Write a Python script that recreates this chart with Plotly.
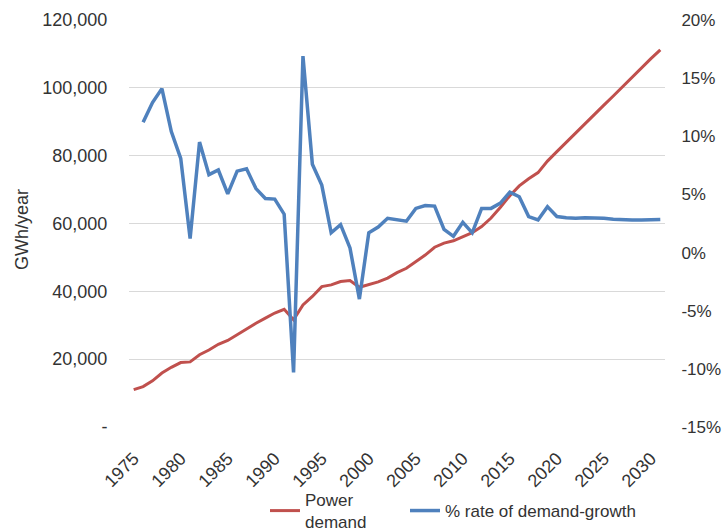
import plotly.graph_objects as go

# Years on the category axis
years = list(range(1975, 2032))

# Annual power demand, GWh/year
power_demand = [
    11000, 11900, 13600, 15900, 17600, 19000, 19200, 21300, 22700, 24400,
    25500, 27200, 29100, 30600, 32100, 33600, 34700, 31600, 36000, 38500,
    41400, 41900, 42900, 43200, 41200, 41900, 42800, 43900, 45500, 46800,
    48800, 50700, 53000, 54200, 54900, 56100, 57300, 59100, 61600, 64800,
    68200, 71100, 73200, 75000, 78400, 81200, 84000, 86700, 89400, 92100,
    94900, 97600, 100400, 103000, 105800, 108600, 111200,
]

# Year-on-year growth of demand, % (no value for the first year)
growth_rate = [
    None, 11.2, 12.9, 14.1, 10.4, 8.1, 1.2, 9.5, 6.7, 7.1,
    5.05, 7.0, 7.2, 5.5, 4.65, 4.6, 3.3, -10.3, 16.9, 7.6,
    5.8, 1.7, 2.4, 0.4, -4.0, 1.7, 2.2, 2.95, 2.8, 2.7,
    3.8, 4.05, 4.0, 2.0, 1.4, 2.6, 1.7, 3.8, 3.8, 4.25,
    5.2, 4.8, 3.1, 2.8, 3.95, 3.1, 3.0, 2.95, 3.0, 3.0,
    2.95, 2.87, 2.8, 2.8, 2.8, 2.8, 2.85,
]

# Axis ticks
x_ticks = list(range(1975, 2031, 5))
left_tickvals = [0, 20000, 40000, 60000, 80000, 100000, 120000]
left_ticktext = ["-", "20,000", "40,000", "60,000", "80,000", "100,000", "120,000"]
right_tickvals = [-15, -10, -5, 0, 5, 10, 15, 20]
right_ticktext = ["-15%", "-10%", "-5%", "0%", "5%", "10%", "15%", "20%"]

RED = "#C0504D"
BLUE = "#4F81BD"
TEXT = "#333333"
FONT = "Liberation Sans, Arial, sans-serif"

L, R, T, B = 129, 57, 20, 104
W, H = 722, 531
PW = W - L - R
PH = H - T - B


def px_x(px):
    return (px - L) / PW


def px_y(py):
    return (H - B - py) / PH


fig = go.Figure()
fig.add_trace(go.Scatter(
    x=years, y=power_demand, name="Power<br>demand", mode="lines",
    line=dict(color=RED, width=3), yaxis="y", legend="legend",
))
fig.add_trace(go.Scatter(
    x=years, y=growth_rate, name="% rate of demand-growth", mode="lines",
    line=dict(color=BLUE, width=3.5), yaxis="y2", connectgaps=False,
    legend="legend2",
))

legend_common = dict(
    orientation="h", xanchor="left", yanchor="middle",
    font=dict(size=17, color=TEXT), bgcolor="rgba(0,0,0,0)",
)

fig.update_layout(
    width=W, height=H,
    margin=dict(l=L, r=R, t=T, b=B, autoexpand=False),
    paper_bgcolor="white", plot_bgcolor="white",
    font=dict(family=FONT, size=18, color=TEXT),
    showlegend=True,
    legend=dict(x=px_x(265), y=px_y(511), **legend_common),
    legend2=dict(x=px_x(405), y=px_y(511), **legend_common),
    xaxis=dict(
        range=[1974.5, 2031.5], tickvals=x_ticks, tickangle=-45,
        showgrid=False, zeroline=False, showline=False, automargin=False,
        ticks="outside", ticklen=13, tickcolor="rgba(0,0,0,0)",
        tickfont=dict(size=18, color=TEXT),
    ),
    yaxis=dict(
        range=[0, 120000], tickvals=left_tickvals, ticktext=left_ticktext,
        showgrid=True, gridcolor="#D9D9D9", gridwidth=1, automargin=False,
        zeroline=False, showline=False,
        ticks="outside", ticklen=17, tickcolor="rgba(0,0,0,0)",
        tickfont=dict(size=18, color=TEXT),
    ),
    yaxis2=dict(
        range=[-15, 20], tickvals=right_tickvals, ticktext=right_ticktext,
        overlaying="y", side="right", showgrid=False, zeroline=False,
        showline=False, automargin=False, ticks="outside", ticklen=12,
        tickcolor="rgba(0,0,0,0)", tickfont=dict(size=17, color=TEXT),
    ),
    annotations=[dict(
        text="GWh/year", xref="paper", yref="paper",
        x=px_x(22), y=px_y(230), xanchor="center", yanchor="middle",
        textangle=-90, showarrow=False, font=dict(size=18, color=TEXT),
    )],
)

fig.write_html("out.html")
